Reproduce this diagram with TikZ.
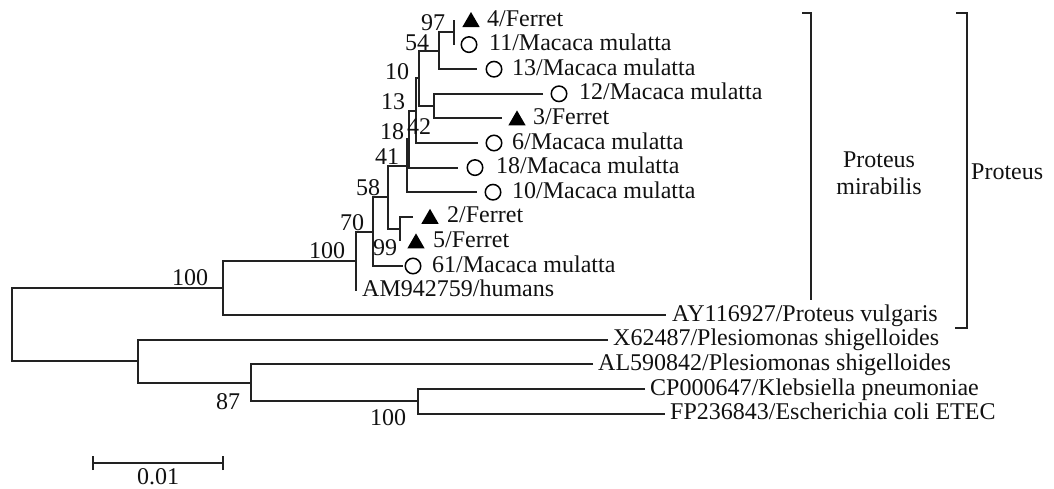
\documentclass[tikz,border=0pt]{standalone}
\usepackage{fontspec}
\setmainfont{Liberation Serif}
\usetikzlibrary{shapes.geometric}
\newcommand\fs{\fontsize{24}{27}\selectfont}
\definecolor{linecol}{HTML}{222222}
\definecolor{txtcol}{HTML}{111111}
\begin{document}
\begin{tikzpicture}[x=1pt,y=-1pt,
  br/.style={line width=2pt, draw=linecol},
  lab/.style={anchor=base west, inner sep=0pt, font=\fs, text=txtcol},
  bs/.style={inner sep=0pt, font=\fs, text=txtcol},
  tri/.style={regular polygon, regular polygon sides=3, fill=black, draw=none, inner sep=0pt, minimum size=20pt},
  circ/.style={circle, draw=black, line width=1.5pt, inner sep=0pt, minimum size=15.5pt},
]
\useasboundingbox (0,0) rectangle (1054,488);

% leaf ends
\coordinate (e4)  at (454,20);
\coordinate (e11) at (454,44.6);
\coordinate (e13) at (477,69.2);
\coordinate (e12) at (543,93.8);
\coordinate (e3)  at (502,118.4);
\coordinate (e6)  at (478,143);
\coordinate (e18) at (458,167.6);
\coordinate (e10) at (477,192.2);
\coordinate (e2)  at (413,216.8);
\coordinate (e5)  at (399.5,241.4);
\coordinate (e61) at (403,266);
\coordinate (eAM) at (356,290.6);
\coordinate (eAY) at (666,315.2);
\coordinate (eX)  at (608,339.8);
\coordinate (eAL) at (593,364.4);
\coordinate (eCP) at (645,389);
\coordinate (eFP) at (665,413.6);

% internal nodes
\coordinate (n97) at (454,32.3);
\coordinate (n54) at (438.5,50.75);
\coordinate (nN)  at (433.5,106.1);
\coordinate (nX)  at (419,78.4);
\coordinate (nY)  at (415.5,110.7);
\coordinate (nZ)  at (408.5,139.2);
\coordinate (n41) at (406.5,165.7);
\coordinate (n99) at (399.5,229.1);
\coordinate (n58) at (388,197.4);
\coordinate (n70) at (373,231.7);
\coordinate (nM)  at (356,261.2);
\coordinate (nP)  at (223,288.2);
\coordinate (nK)  at (418,401.3);
\coordinate (n87) at (251,382.9);
\coordinate (nO)  at (138,361.3);
\coordinate (nR)  at (12,324.7);

% branches
\draw[br] (e4) -| (n97) |- (e11);
\draw[br] (n97) -| (n54) |- (e13);
\draw[br] (e12) -| (nN) |- (e3);
\draw[br] (n54) -| (nX) |- (nN);
\draw[br] (nX) -| (nY) |- (e6);
\draw[br] (nY) -| (nZ) |- (e18);
\draw[br] (nZ) -| (n41) |- (e10);
\draw[br] (e2) -| (n99) |- (e5);
\draw[br] (n41) -| (n58) |- (n99);
\draw[br] (n58) -| (n70) |- (e61);
\draw[br] (n70) -| (nM) |- (eAM);
\draw[br] (nM) -| (nP) |- (eAY);
\draw[br] (eCP) -| (nK) |- (eFP);
\draw[br] (eAL) -| (n87) |- (nK);
\draw[br] (eX) -| (nO) |- (n87);
\draw[br] (nP) -| (nR) |- (nO);

% markers
\node[tri]  (m4)  at (471,22) {};
\node[circ] (m11) at (469,44.6) {};
\node[circ] (m13) at (494,69.2) {};
\node[circ] (m12) at (559,93.8) {};
\node[tri]  (m3)  at (517,120.4) {};
\node[circ] (m6)  at (494,143) {};
\node[circ] (m18) at (475,167.6) {};
\node[circ] (m10) at (493,192.2) {};
\node[tri]  (m2)  at (430,218.8) {};
\node[tri]  (m5)  at (416,243.4) {};
\node[circ] (m61) at (413,266) {};

% leaf labels
\node[lab] (t4)  at (487,26)    {4/Ferret};
\node[lab] (t11) at (489,50.6)  {11/Macaca mulatta};
\node[lab] (t13) at (512,75.2)  {13/Macaca mulatta};
\node[lab] (t12) at (579,99.8)  {12/Macaca mulatta};
\node[lab] (t3)  at (533,124.4) {3/Ferret};
\node[lab] (t6)  at (512,149)   {6/Macaca mulatta};
\node[lab] (t18) at (496,173.6) {18/Macaca mulatta};
\node[lab] (t10) at (512,198.2) {10/Macaca mulatta};
\node[lab] (t2)  at (447,222.8) {2/Ferret};
\node[lab] (t5)  at (433,247.4) {5/Ferret};
\node[lab] (t61) at (432,272)   {61/Macaca mulatta};
\node[lab] (tAM) at (362,296.6) {AM942759/humans};
\node[lab] (tAY) at (672,321.2) {AY116927/Proteus vulgaris};
\node[lab] (tX)  at (613,345.8) {X62487/Plesiomonas shigelloides};
\node[lab] (tAL) at (598,370.4) {AL590842/Plesiomonas shigelloides};
\node[lab] (tCP) at (650,395)   {CP000647/Klebsiella pneumoniae};
\node[lab] (tFP) at (670,419.6) {FP236843/Escherichia coli ETEC};

% bootstrap values
\node[bs] (b97)  at (433,23)  {97};
\node[bs] (b54)  at (417,43)  {54};
\node[bs] (b10)  at (397,72)  {10};
\node[bs] (b13)  at (393,102) {13};
\node[bs] (b18)  at (392,132) {18};
\node[bs] (b42)  at (419,127) {42};
\node[bs] (b41)  at (387,157) {41};
\node[bs] (b58)  at (368,188) {58};
\node[bs] (b70)  at (352,223) {70};
\node[bs] (b99)  at (385,248) {99};
\node[bs] (b100a) at (327,251) {100};
\node[bs] (b100b) at (190,278) {100};
\node[bs] (b87)  at (228,402) {87};
\node[bs] (b100c) at (388,418) {100};

% brackets
\coordinate (bm1) at (802,13);
\coordinate (bm2) at (811,300);
\draw[br] (bm1) -| (bm2);
\coordinate (bp1) at (956,13);
\coordinate (bp2) at (967,328);
\coordinate (bp3) at (955,328);
\draw[br] (bp1) -| (bp2) -- (bp3);
\node[bs, align=center] (lm) at (879,173) {Proteus\\mirabilis};
\node[bs, anchor=west] (lp) at (971,172) {Proteus};

% scale bar
\coordinate (sb1) at (93,463);
\coordinate (sb2) at (223,463);
\draw[br] (sb1) -- (sb2);
\draw[br] ([yshift=-7pt]sb1) -- ([yshift=7pt]sb1);
\draw[br] ([yshift=-7pt]sb2) -- ([yshift=7pt]sb2);
\node[bs] (sbl) at (158,476.5) {0.01};
\end{tikzpicture}
\end{document}
